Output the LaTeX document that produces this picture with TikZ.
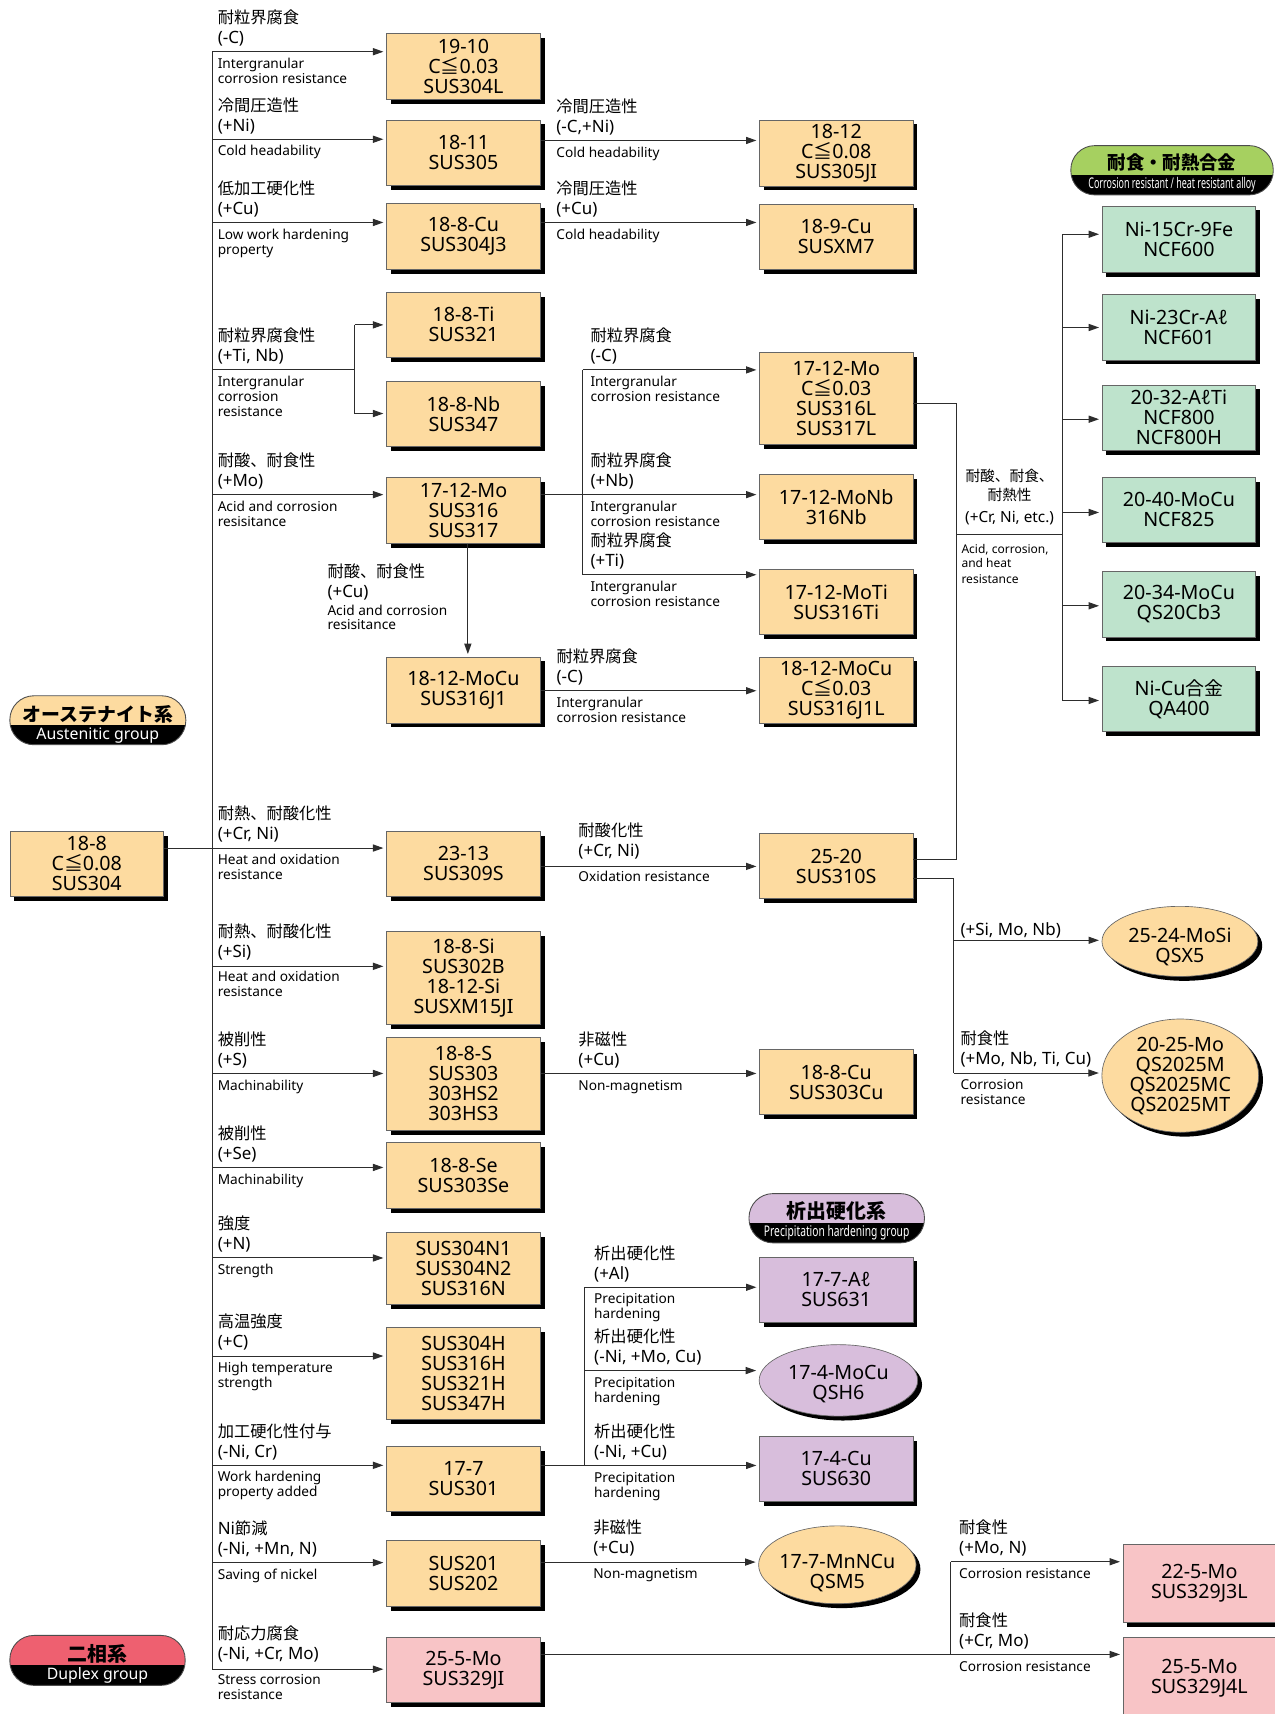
\documentclass[tikz,border=0pt]{standalone}
\usepackage{fontspec}
\usepackage{graphicx}
\setmainfont{Noto Sans}
\newfontfamily\jpf[Scale=0.96]{Noto Sans CJK JP}
\newcommand\jp[1]{{\jpf #1}}
\usetikzlibrary{shapes.geometric,shadows,arrows.meta}
\definecolor{orangeC}{RGB}{253,219,160}
\definecolor{greenC}{RGB}{190,227,204}
\definecolor{purpleC}{RGB}{216,190,220}
\definecolor{pinkC}{RGB}{248,196,198}
\definecolor{greenP}{RGB}{166,208,96}
\definecolor{redP}{RGB}{238,96,112}
\definecolor{lineC}{RGB}{45,45,45}
\newcommand\bxfont{\fontsize{18}{18.3}\selectfont}
\newcommand\lbfont{\fontsize{15.5}{18.3}\selectfont}
\newcommand\enfont{\fontsize{12.5}{13.7}\selectfont}
\newcommand\dn[1]{\rule{0pt}{#1}}
\tikzset{
  bx/.style={draw=black!60, line width=0.6pt, inner sep=0pt, align=center, font=\bxfont, text=black,
     drop shadow={shadow xshift=4pt, shadow yshift=-4pt, opacity=1, fill=black}},
  ob/.style={bx, fill=orangeC},
  gb/.style={bx, fill=greenC},
  pb/.style={bx, fill=purpleC},
  kb/.style={bx, fill=pinkC},
  el/.style={ellipse, inner xsep=-6pt, inner ysep=0pt},
  ln/.style={draw=lineC, line width=0.9pt},
  arr/.style={ln, -{Triangle[length=9.5pt,width=6.5pt]}, shorten >=2.5pt},
  jpl/.style={anchor=base west, inner sep=0pt, font=\lbfont},
  enl/.style={anchor=base west, inner sep=0pt, font=\enfont},
  pilltxt/.style={inner sep=0pt, anchor=center},
}
% name, x, L, jp1, jp2, en1, en2
\newcommand\Lbl[7]{%
  \if\relax\detokenize{#4}\relax\else\node[jpl] (#1a) at (#2,#3-25.8) {#4};\fi
  \node[jpl] (#1b) at (#2,#3-7.5) {#5};
  \if\relax\detokenize{#6}\relax\else\node[enl] (#1c) at (#2,#3+15.2) {#6};\fi
  \if\relax\detokenize{#7}\relax\else\node[enl] (#1d) at (#2,#3+28.9) {#7};\fi
}
\begin{document}
\begin{tikzpicture}[x=1pt,y=-1pt]
\useasboundingbox (0,0) rectangle (1166,1568);
\fill[white] (0,0) rectangle (1166,1568);

% ---------- group pills ----------
\begin{scope}
  \clip[rounded corners=22pt] (9,636.5) rectangle (170,681.3);
  \fill[orangeC] (9,636.5) rectangle (170,663);
  \fill[black] (9,663) rectangle (170,681.3);
\end{scope}
\draw[black!70, line width=0.8pt, rounded corners=22pt] (9,636.5) rectangle (170,681.3);
\node[pilltxt] (austT) at (89.5,653.6) {\fontsize{18}{18}\selectfont\jpf\bfseries オーステナイト系};
\node[pilltxt, text=white] (austS) at (89.5,672.6) {\fontsize{14.5}{14.5}\selectfont Austenitic group};

\begin{scope}
  \clip[rounded corners=22pt] (9,1496.1) rectangle (169.4,1541.8);
  \fill[redP] (9,1496.1) rectangle (169.4,1523.2);
  \fill[black] (9,1523.2) rectangle (169.4,1541.8);
\end{scope}
\draw[black!70, line width=0.8pt, rounded corners=22pt] (9,1496.1) rectangle (169.4,1541.8);
\node[pilltxt] (dupT) at (89.2,1513.3) {\fontsize{19}{19}\selectfont\jpf\bfseries 二相系};
\node[pilltxt, text=white] (dupS) at (89.2,1533) {\fontsize{14.5}{14.5}\selectfont Duplex group};

\begin{scope}
  \clip[rounded corners=22pt] (979.6,133.2) rectangle (1164.8,178.3);
  \fill[greenP] (979.6,133.2) rectangle (1164.8,160);
  \fill[black] (979.6,160) rectangle (1164.8,178.3);
\end{scope}
\draw[black!70, line width=0.8pt, rounded corners=22pt] (979.6,133.2) rectangle (1164.8,178.3);
\node[pilltxt] (corT) at (1072.2,148.6) {\fontsize{17.5}{17.5}\selectfont\jpf\bfseries 耐食・耐熱合金};
\node[pilltxt, text=white] (corS) at (1072.2,168.6) {\resizebox{153pt}{\height}{\fontsize{13.5}{13.5}\selectfont Corrosion resistant / heat resistant alloy}};

\begin{scope}
  \clip[rounded corners=22pt] (685.2,1091.9) rectangle (845.7,1137);
  \fill[purpleC] (685.2,1091.9) rectangle (845.7,1118.7);
  \fill[black] (685.2,1118.7) rectangle (845.7,1137);
\end{scope}
\draw[black!70, line width=0.8pt, rounded corners=22pt] (685.2,1091.9) rectangle (845.7,1137);
\node[pilltxt] (preT) at (765.4,1107.8) {\fontsize{19}{19}\selectfont\jpf\bfseries 析出硬化系};
\node[pilltxt, text=white] (preS) at (765.4,1127.9) {\resizebox{133pt}{\height}{\fontsize{13.5}{13.5}\selectfont Precipitation hardening group}};

% ---------- start box ----------
\node[ob, minimum width=140.5pt, minimum height=59.5pt] (b188) at (79.4,790.3) {18-8\\C\jp{≦}0.08\\SUS304};

% ---------- column A ----------
\node[ob, minimum width=141pt, minimum height=60pt] (b1910) at (424,60.8) {19-10\\C\jp{≦}0.03\\SUS304L};
\node[ob, minimum width=141pt, minimum height=60pt] (b1811) at (424,139.75) {18-11\\SUS305};
\node[ob, minimum width=141pt, minimum height=60pt] (b188Cu) at (424,216.4) {18-8-Cu\\SUS304J3};
\node[ob, minimum width=141pt, minimum height=59.5pt] (b188Ti) at (424,297) {18-8-Ti\\SUS321};
\node[ob, minimum width=141pt, minimum height=59.5pt] (b188Nb) at (424,378.8) {18-8-Nb\\SUS347};
\node[ob, minimum width=141pt, minimum height=60.4pt] (b1712Mo) at (424,466.7) {17-12-Mo\\SUS316\\SUS317};
\node[ob, minimum width=141pt, minimum height=60.4pt] (b1812MoCu) at (424,631.3) {18-12-MoCu\\SUS316J1};
\node[ob, minimum width=141pt, minimum height=59.5pt] (b2313) at (424,790.3) {23-13\\SUS309S};
\node[ob, minimum width=141pt, minimum height=85pt] (b188Si) at (424,894.5) {18-8-Si\\SUS302B\\18-12-Si\\SUSXM15JI};
\node[ob, minimum width=141pt, minimum height=85pt] (b188S) at (424,991.5) {18-8-S\\SUS303\\303HS2\\303HS3};
\node[ob, minimum width=141pt, minimum height=60.5pt] (b188Se) at (424,1075.3) {18-8-Se\\SUS303Se};
\node[ob, minimum width=141pt, minimum height=66pt] (bN) at (424,1160.3) {SUS304N1\\SUS304N2\\SUS316N};
\node[ob, minimum width=141pt, minimum height=84pt] (bH) at (424,1256.7) {SUS304H\\SUS316H\\SUS321H\\SUS347H};
\node[ob, minimum width=141pt, minimum height=59.4pt] (b177) at (424,1352.7) {17-7\\SUS301};
\node[ob, minimum width=141pt, minimum height=60.3pt] (b201) at (424,1439.2) {SUS201\\SUS202};
\node[kb, minimum width=141pt, minimum height=59.5pt] (b255) at (424,1528) {25-5-Mo\\SUS329JI};

% ---------- column B ----------
\node[ob, minimum width=140.5pt, minimum height=60.4pt] (b1812) at (765,139.9) {18-12\\C\jp{≦}0.08\\SUS305JI};
\node[ob, minimum width=140.5pt, minimum height=59.7pt] (b189Cu) at (765,216.5) {18-9-Cu\\SUSXM7};
\node[ob, minimum width=140.5pt, minimum height=83.8pt] (bMoL) at (765,364.4) {17-12-Mo\\C\jp{≦}0.03\\SUS316L\\SUS317L};
\node[ob, minimum width=140.5pt, minimum height=60pt] (bMoNb) at (765,463.8) {17-12-MoNb\\316Nb};
\node[ob, minimum width=140.5pt, minimum height=60pt] (bMoTi) at (765,550.7) {17-12-MoTi\\SUS316Ti};
\node[ob, minimum width=140.5pt, minimum height=60.4pt] (bMoCuL) at (765,631.3) {18-12-MoCu\\C\jp{≦}0.03\\SUS316J1L};
\node[ob, minimum width=140.5pt, minimum height=59.4pt] (b2520) at (765,792.4) {25-20\\SUS310S};
\node[ob, minimum width=140.5pt, minimum height=59.5pt] (b188Cu2) at (765,990) {18-8-Cu\\SUS303Cu};
\node[pb, minimum width=140.5pt, minimum height=59.8pt] (bAl) at (765,1179.7) {17-7-Aℓ\\SUS631};
\node[pb, el, minimum width=145pt, minimum height=65.4pt] (eMoCu) at (767,1262.8) {\dn{19pt}17-4-MoCu\\QSH6};
\node[pb, minimum width=140.5pt, minimum height=59.5pt] (b174Cu) at (765,1343.6) {17-4-Cu\\SUS630};
\node[ob, el, minimum width=144pt, minimum height=66pt] (eMnNCu) at (766,1431.5) {\dn{29pt}17-7-MnNCu\\QSM5};

% ---------- column C ----------
\node[gb, minimum width=140.6pt, minimum height=60.6pt] (g600) at (1078.5,218.7) {Ni-15Cr-9Fe\\NCF600};
\node[gb, minimum width=140.6pt, minimum height=60pt] (g601) at (1078.5,299.2) {Ni-23Cr-Aℓ\\NCF601};
\node[gb, minimum width=140.6pt, minimum height=60pt] (g800) at (1078.5,382.1) {20-32-AℓTi\\NCF800\\NCF800H};
\node[gb, minimum width=140.6pt, minimum height=59.8pt] (g825) at (1078.5,466.4) {20-40-MoCu\\NCF825};
\node[gb, minimum width=140.6pt, minimum height=60pt] (gCb3) at (1078.5,552.8) {20-34-MoCu\\QS20Cb3};
\node[gb, minimum width=140.6pt, minimum height=59.4pt] (gQA) at (1078.5,639.4) {Ni-Cu\jp{合金}\\QA400};

\node[ob, el, minimum width=142.6pt, minimum height=64pt] (eQSX5) at (1079.4,861.2) {\dn{24pt}25-24-MoSi\\QSX5};
\node[ob, el, minimum width=143.4pt, minimum height=103.6pt] (eQS2025) at (1079.7,984) {20-25-Mo\\QS2025M\\QS2025MC\\QS2025MT};
\node[kb, minimum width=139.7pt, minimum height=71pt] (k3L) at (1097.2,1448.5) {22-5-Mo\\SUS329J3L};
\node[kb, minimum width=139.7pt, minimum height=74pt] (k4L) at (1097.2,1535) {25-5-Mo\\SUS329J4L};

% ---------- main trunk ----------
\coordinate (tTop) at (194,47.3);
\coordinate (tBot) at (194,1527);
\draw[ln] (tTop) -- (tBot);
\coordinate (j2) at (194,127.4);
\coordinate (j3) at (194,203.5);
\coordinate (j4) at (194,338.4);
\coordinate (j5) at (194,452.5);
\coordinate (j6) at (194,775.8);
\coordinate (j7) at (194,884);
\coordinate (j8) at (194,982);
\coordinate (j9) at (194,1068);
\coordinate (j10) at (194,1150.8);
\coordinate (j11) at (194,1240.5);
\coordinate (j12) at (194,1340.5);
\coordinate (j13) at (194,1429.5);
\draw[arr] (tTop) -- (tTop -| b1910.west);
\draw[arr] (j2) -- (j2 -| b1811.west);
\draw[arr] (j3) -- (j3 -| b188Cu.west);
\coordinate (k4) at (324.4,338.4);
\coordinate (k4a) at (324.4,297.2);
\coordinate (k4b) at (324.4,378.3);
\draw[ln] (j4) -- (k4);
\draw[ln] (k4a) -- (k4b);
\draw[arr] (k4a) -- (k4a -| b188Ti.west);
\draw[arr] (k4b) -- (k4b -| b188Nb.west);
\draw[arr] (j5) -- (j5 -| b1712Mo.west);
\draw[arr] (j6 -| b188.east) -- (j6 -| b2313.west);
\draw[arr] (j7) -- (j7 -| b188Si.west);
\draw[arr] (j8) -- (j8 -| b188S.west);
\draw[arr] (j9) -- (j9 -| b188Se.west);
\draw[arr] (j10) -- (j10 -| bN.west);
\draw[arr] (j11) -- (j11 -| bH.west);
\draw[arr] (j12) -- (j12 -| b177.west);
\draw[arr] (j13) -- (j13 -| b201.west);
\draw[arr] (tBot) -- (tBot -| b255.west);

% ---------- A to B ----------
\coordinate (h2) at (600,128.5);
\draw[arr] (h2 -| b1811.east) -- (h2 -| b1812.west);
\coordinate (h3) at (600,203.5);
\draw[arr] (h3 -| b188Cu.east) -- (h3 -| b189Cu.west);
\coordinate (m0) at (533,452.5);
\coordinate (m1) at (533,338.4);
\coordinate (m2) at (533,525.8);
\draw[arr] (m0 -| b1712Mo.east) -- (m0 -| bMoNb.west);
\draw[ln] (m1) -- (m2);
\draw[arr] (m1) -- (m1 -| bMoL.west);
\draw[arr] (m2) -- (m2 -| bMoTi.west);
\coordinate (v1) at (428,550);
\draw[arr] (b1712Mo.south -| v1) -- (b1812MoCu.north -| v1);
\coordinate (h6) at (600,631.9);
\draw[arr] (h6 -| b1812MoCu.east) -- (h6 -| bMoCuL.west);
\coordinate (h7) at (600,792.6);
\draw[arr] (h7 -| b2313.east) -- (h7 -| b2520.west);
\coordinate (h8) at (600,982);
\draw[arr] (h8 -| b188S.east) -- (h8 -| b188Cu2.west);
\coordinate (p0) at (535.1,1340.6);
\coordinate (p1) at (535.1,1177.6);
\coordinate (p2) at (535.1,1253.8);
\draw[arr] (p0 -| b177.east) -- (p0 -| b174Cu.west);
\draw[ln] (p1) -- (p0);
\draw[arr] (p1) -- (p1 -| bAl.west);
\draw[arr] (p2) -- (p2 -| eMoCu.west);
\coordinate (n0) at (600,1429);
\draw[arr] (n0 -| b201.east) -- (n0 -| eMnNCu.west);

% ---------- right side ----------
\coordinate (r1) at (874.8,369.5);
\coordinate (r2) at (874.8,786.5);
\draw[ln] (r1 -| bMoL.east) -- (r1) -- (r2) -- (r2 -| b2520.east);
\coordinate (r3) at (874.8,488.6);
\coordinate (g0) at (971.8,488.6);
\draw[ln] (r3) -- (g0);
\coordinate (gT) at (971.8,214.3);
\coordinate (gB) at (971.8,640.8);
\draw[ln] (gT) -- (gB);
\coordinate (ga2) at (971.8,299.6);
\coordinate (ga3) at (971.8,383.5);
\coordinate (ga4) at (971.8,468.8);
\coordinate (ga5) at (971.8,554.2);
\draw[arr] (gT) -- (gT -| g600.west);
\draw[arr] (ga2) -- (ga2 -| g601.west);
\draw[arr] (ga3) -- (ga3 -| g800.west);
\draw[arr] (ga4) -- (ga4 -| g825.west);
\draw[arr] (ga5) -- (ga5 -| gCb3.west);
\draw[arr] (gB) -- (gB -| gQA.west);
\coordinate (q1) at (872.4,803.3);
\coordinate (q2) at (872.4,860.2);
\coordinate (q3) at (872.4,981.6);
\draw[ln] (q1 -| b2520.east) -- (q1) -- (q3);
\draw[arr] (q2) -- (q2 -| eQSX5.west);
\draw[arr] (q3) -- (q3 -| eQS2025.west);
\coordinate (d0) at (869.7,1513.5);
\coordinate (d1) at (869.7,1428.7);
\draw[arr] (d0 -| b255.east) -- (d0 -| k4L.west);
\draw[ln] (d0) -- (d1);
\draw[arr] (d1) -- (d1 -| k3L.west);

% ---------- labels: left ----------
\Lbl{l1}{199}{47.3}{\jp{耐粒界腐食}}{(-C)}{Intergranular}{corrosion resistance}
\Lbl{l2}{199}{127.4}{\jp{冷間圧造性}}{(+Ni)}{Cold headability}{}
\Lbl{l3}{199}{203.5}{\jp{低加工硬化性}}{(+Cu)}{Low work hardening}{property}
\Lbl{l4}{199}{338.4}{\jp{耐粒界腐食性}}{(+Ti, Nb)}{Intergranular}{corrosion}
\node[enl] (l4e) at (199,381) {resistance};
\Lbl{l5}{199}{452.5}{\jp{耐酸、耐食性}}{(+Mo)}{Acid and corrosion}{resisitance}
\Lbl{l6}{199}{775.8}{\jp{耐熱、耐酸化性}}{(+Cr, Ni)}{Heat and oxidation}{resistance}
\Lbl{l7}{199}{883}{\jp{耐熱、耐酸化性}}{(+Si)}{Heat and oxidation}{resistance}
\Lbl{l8}{199}{982}{\jp{被削性}}{(+S)}{Machinability}{}
\Lbl{l9}{199}{1068}{\jp{被削性}}{(+Se)}{Machinability}{}
\Lbl{l10}{199}{1150.8}{\jp{強度}}{(+N)}{Strength}{}
\Lbl{l11}{199}{1240.5}{\jp{高温強度}}{(+C)}{High temperature}{strength}
\Lbl{l12}{199}{1340.5}{\jp{加工硬化性付与}}{(-Ni, Cr)}{Work hardening}{property added}
\Lbl{l13}{199}{1429.5}{Ni\jp{節減}}{(-Ni, +Mn, N)}{Saving of nickel}{}
\Lbl{l14}{199}{1526}{\jp{耐応力腐食}}{(-Ni, +Cr, Mo)}{Stress corrosion}{resistance}

% ---------- labels: middle ----------
\Lbl{c1}{508.8}{128.5}{\jp{冷間圧造性}}{(-C,+Ni)}{Cold headability}{}
\Lbl{c2}{508.8}{203.5}{\jp{冷間圧造性}}{(+Cu)}{Cold headability}{}
\Lbl{c3}{540}{338.4}{\jp{耐粒界腐食}}{(-C)}{Intergranular}{corrosion resistance}
\Lbl{c4}{540}{452.5}{\jp{耐粒界腐食}}{(+Nb)}{Intergranular}{corrosion resistance}
\Lbl{c5}{540}{525.8}{\jp{耐粒界腐食}}{(+Ti)}{Intergranular}{corrosion resistance}
\Lbl{c6}{509}{631.9}{\jp{耐粒界腐食}}{(-C)}{Intergranular}{corrosion resistance}
\Lbl{c7}{529}{791}{\jp{耐酸化性}}{(+Cr, Ni)}{Oxidation resistance}{}
\Lbl{c8}{529}{982}{\jp{非磁性}}{(+Cu)}{Non-magnetism}{}
\Lbl{c9}{543.4}{1177.6}{\jp{析出硬化性}}{(+Al)}{Precipitation}{hardening}
\Lbl{c10}{543.4}{1253.8}{\jp{析出硬化性}}{(-Ni, +Mo, Cu)}{Precipitation}{hardening}
\Lbl{c11}{543.4}{1340.6}{\jp{析出硬化性}}{(-Ni, +Cu)}{Precipitation}{hardening}
\Lbl{c12}{542.6}{1429}{\jp{非磁性}}{(+Cu)}{Non-magnetism}{}
\node[jpl] (cu1) at (299.4,528.6) {\jp{耐酸、耐食性}};
\node[jpl] (cu2) at (299.4,546.9) {(+Cu)};
\node[enl] (cu3) at (299.4,562.9) {Acid and corrosion};
\node[enl] (cu4) at (299.4,575.9) {resisitance};

% ---------- labels: right ----------
\node[jpl] (r1b) at (878.5,856) {(+Si, Mo, Nb)};
\Lbl{r2}{878.5}{981.6}{\jp{耐食性}}{(+Mo, Nb, Ti, Cu)}{Corrosion}{resistance}
\Lbl{r3}{877.3}{1428.7}{\jp{耐食性}}{(+Mo, N)}{Corrosion resistance}{}
\Lbl{r4}{877.3}{1513.5}{\jp{耐食性}}{(+Cr, Mo)}{Corrosion resistance}{}
\node[anchor=base, inner sep=0pt, font=\fontsize{14}{14}\selectfont] (ac1) at (923.6,440.5) {\jp{耐酸、耐食、}};
\node[anchor=base, inner sep=0pt, font=\fontsize{14}{14}\selectfont] (ac2) at (923.6,457.9) {\jp{耐熱性}};
\node[anchor=base, inner sep=0pt, font=\fontsize{14}{14}\selectfont] (ac3) at (923.6,477.7) {(+Cr, Ni, etc.)};
\node[anchor=base west, inner sep=0pt, font=\fontsize{11}{11}\selectfont] (ac4) at (879.4,506) {Acid, corrosion,};
\node[anchor=base west, inner sep=0pt, font=\fontsize{11}{11}\selectfont] (ac5) at (879.4,519.4) {and heat};
\node[anchor=base west, inner sep=0pt, font=\fontsize{11}{11}\selectfont] (ac6) at (879.4,533.4) {resistance};
\end{tikzpicture}
\end{document}
